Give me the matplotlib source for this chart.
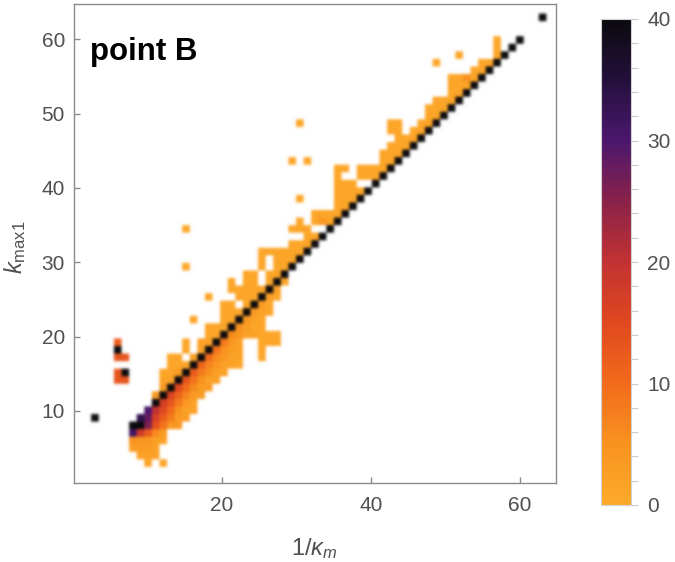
import numpy as np
import matplotlib
matplotlib.use('Agg')
import matplotlib.pyplot as plt
from matplotlib.colors import LinearSegmentedColormap, Normalize
from matplotlib.cm import ScalarMappable
from matplotlib.ticker import MultipleLocator

plt.rcParams['font.family'] = ['Liberation Sans', 'DejaVu Sans']
plt.rcParams['mathtext.fontset'] = 'custom'
plt.rcParams['mathtext.rm'] = 'Liberation Sans'
plt.rcParams['mathtext.it'] = 'Liberation Sans:italic'
plt.rcParams['mathtext.bf'] = 'Liberation Sans:bold'

# ---------------- data ----------------
# diagonal (1/kappa_m == k_max1) cells, all saturated
diag_values = list(range(11, 61))
diag_count = 60
# other saturated / special cells
special_x = [3, 6, 7, 8, 9, 63]
special_y = [9, 18, 15, 8, 8, 63]
special_counts = [45, 45, 45, 45, 40, 45]
# runs: (k_max1, 1/kappa_m from, 1/kappa_m to, count)
runs = [
    (3, 10, 10, 1), (3, 12, 12, 1),
    (4, 9, 11, 2),
    (5, 8, 10, 3), (5, 11, 11, 2),
    (6, 8, 8, 5), (6, 9, 10, 4), (6, 11, 12, 2),
    (7, 8, 8, 31), (7, 9, 9, 18), (7, 10, 10, 12), (7, 11, 11, 6), (7, 12, 12, 3),
    (8, 10, 10, 26), (8, 11, 11, 14), (8, 12, 12, 9), (8, 13, 14, 4),
    (9, 9, 9, 33), (9, 10, 10, 28), (9, 11, 11, 17), (9, 12, 12, 12), (9, 13, 13, 8), (9, 14, 15, 3),
    (10, 10, 10, 30), (10, 11, 11, 20), (10, 12, 12, 15), (10, 13, 13, 10), (10, 14, 14, 5), (10, 15, 16, 2),
    (11, 12, 12, 17), (11, 13, 13, 13), (11, 14, 14, 8), (11, 15, 15, 4), (11, 16, 16, 2),
    (12, 11, 11, 3), (12, 13, 13, 16), (12, 14, 14, 11), (12, 15, 15, 7), (12, 16, 17, 3),
    (13, 12, 12, 3), (13, 14, 14, 15), (13, 15, 15, 10), (13, 16, 16, 6), (13, 17, 18, 3),
    (14, 6, 7, 13), (14, 12, 13, 2), (14, 15, 15, 13), (14, 16, 16, 9), (14, 17, 17, 5), (14, 18, 19, 2),
    (15, 6, 6, 13), (15, 12, 13, 1), (15, 14, 14, 3), (15, 16, 16, 12), (15, 17, 17, 8), (15, 18, 18, 5), (15, 19, 20, 2),
    (16, 13, 15, 1), (16, 17, 17, 11), (16, 18, 18, 7), (16, 19, 19, 4), (16, 20, 21, 2), (16, 22, 22, 1),
    (17, 6, 7, 13), (17, 13, 14, 1), (17, 16, 16, 2), (17, 18, 18, 10), (17, 19, 19, 6), (17, 20, 20, 4), (17, 21, 22, 2), (17, 25, 25, 1),
    (18, 15, 15, 1), (18, 17, 17, 2), (18, 19, 19, 9), (18, 20, 20, 5), (18, 21, 21, 3), (18, 22, 22, 2), (18, 25, 25, 1),
    (19, 6, 6, 12), (19, 15, 15, 1), (19, 17, 18, 2), (19, 20, 20, 8), (19, 21, 21, 4), (19, 22, 22, 2), (19, 25, 27, 1),
    (20, 18, 19, 1), (20, 21, 21, 6), (20, 22, 22, 4), (20, 23, 24, 2), (20, 25, 27, 1),
    (21, 18, 20, 1), (21, 22, 22, 5), (21, 23, 23, 3), (21, 24, 25, 1),
    (22, 16, 16, 1), (22, 20, 21, 1), (22, 23, 23, 4), (22, 24, 24, 2), (22, 25, 25, 1),
    (23, 20, 22, 1), (23, 24, 24, 3), (23, 25, 25, 2), (23, 26, 26, 1),
    (24, 20, 21, 1), (24, 23, 23, 1), (24, 25, 25, 3), (24, 26, 26, 1),
    (25, 18, 18, 1), (25, 22, 24, 1), (25, 26, 26, 2), (25, 27, 27, 1),
    (26, 21, 21, 1), (26, 22, 25, 1), (26, 27, 27, 2),
    (27, 21, 21, 1), (27, 23, 24, 1), (27, 26, 26, 1), (27, 28, 28, 1),
    (28, 23, 24, 1), (28, 26, 27, 1),
    (29, 15, 15, 1), (29, 25, 25, 1), (29, 27, 28, 1),
    (30, 25, 25, 1), (30, 27, 29, 1),
    (31, 25, 30, 1),
    (32, 29, 31, 1),
    (34, 31, 32, 1),
    (35, 15, 15, 1), (35, 29, 31, 1),
    (36, 30, 30, 1), (36, 32, 32, 1), (36, 34, 34, 4), (36, 35, 35, 1),
    (37, 32, 32, 1), (37, 34, 36, 1),
    (38, 36, 37, 1),
    (39, 30, 30, 1), (39, 36, 38, 1),
    (40, 36, 39, 1),
    (41, 36, 38, 1),
    (42, 36, 36, 1), (42, 39, 41, 1),
    (43, 36, 37, 1), (43, 39, 42, 1),
    (44, 29, 29, 1), (44, 31, 31, 1), (44, 42, 43, 1),
    (45, 42, 44, 1),
    (46, 43, 45, 1),
    (47, 44, 46, 1),
    (48, 43, 44, 1), (48, 46, 47, 1),
    (49, 30, 30, 1), (49, 43, 44, 1), (49, 47, 48, 1),
    (50, 48, 49, 1),
    (51, 48, 50, 1),
    (52, 49, 51, 1),
    (53, 51, 52, 1),
    (54, 51, 53, 1),
    (55, 51, 52, 1), (55, 53, 53, 5), (55, 54, 54, 1),
    (56, 54, 55, 1),
    (57, 49, 49, 1), (57, 55, 56, 1),
    (58, 52, 52, 1), (58, 57, 57, 1),
    (59, 57, 57, 1),
    (60, 57, 57, 1),
]
x_ticks = [20, 40, 60]
y_ticks = [10, 20, 30, 40, 50, 60]
cbar_ticks = [0, 10, 20, 30, 40]

# -------------- assemble --------------
xs, ys, ws = [], [], []
for k in diag_values:
    xs.append(k); ys.append(k); ws.append(diag_count)
for a, b, c in zip(special_x, special_y, special_counts):
    xs.append(a); ys.append(b); ws.append(c)
for (yy, x0, x1, c) in runs:
    for xx in range(x0, x1 + 1):
        xs.append(xx); ys.append(yy); ws.append(c)

edges = np.linspace(0.5, 64.5, 64)
H, _, _ = np.histogram2d(xs, ys, bins=[edges, edges], weights=ws)
Z = H.T

cmap = LinearSegmentedColormap.from_list('sunset_r', [
    (0.0, '#FDAA2B'), (0.125, '#F8921F'), (0.25, '#F26B1C'), (0.375, '#E0481F'),
    (0.5, '#C23232'), (0.625, '#8A2249'), (0.75, '#4C176E'), (0.875, '#24103C'),
    (1.0, '#0B0A0E')])
norm = Normalize(0, 40)

rgba = cmap(norm(np.clip(Z, 0, 40)))
rgba[Z == 0] = (1, 1, 1, 1)

f = 10
big = np.repeat(np.repeat(rgba, f, axis=0), f, axis=1)


def blur(a, s):
    r = int(3 * s) + 1
    k = np.exp(-0.5 * (np.arange(-r, r + 1) / s) ** 2)
    k /= k.sum()
    p = np.pad(a, ((r, r), (0, 0), (0, 0)), mode='constant', constant_values=1)
    out = sum(k[i] * p[i:i + a.shape[0]] for i in range(2 * r + 1))
    p = np.pad(out, ((0, 0), (r, r), (0, 0)), mode='constant', constant_values=1)
    out = sum(k[i] * p[:, i:i + a.shape[1]] for i in range(2 * r + 1))
    return np.clip(out, 0, 1)


big = blur(big, 1.35 * f / 7.45)

# -------------- figure --------------
W, Hh = 675, 562
PT = 0.72  # points per pixel at dpi 100
fig = plt.figure(figsize=(W / 100, Hh / 100), dpi=100)
ax = fig.add_axes([74 / W, (Hh - 483) / Hh, (556 - 74) / W, (483 - 4) / Hh])
ax.imshow(big, extent=(edges[0], edges[-1], edges[0], edges[-1]), origin='lower',
          interpolation='antialiased', aspect='auto')
ax.set_xlim(0.2, 64.8)
ax.set_ylim(0.3, 64.75)

frame_col = '#8a8a8a'
lab_col = '#505050'
for s in ax.spines.values():
    s.set_color(frame_col)
    s.set_linewidth(1.0)
ax.set_xticks(x_ticks)
ax.set_yticks(y_ticks)
ax.tick_params(direction='in', length=6 * PT, width=1.0, color=frame_col, labelcolor=lab_col,
               labelsize=15, top=False, right=False)
ax.tick_params(axis='x', pad=13 * PT)
ax.tick_params(axis='y', pad=9 * PT)

fig.text(314 / W, (Hh - 555) / Hh, r'$1/\kappa_m$', fontsize=17, color=lab_col,
         ha='center', va='baseline')
fig.text(15 / W, (Hh - 247) / Hh, r'$k_{\mathrm{max1}}$', fontsize=17, color=lab_col,
         ha='center', va='center', rotation=90)

ax.text(16 / 482, (483 - 60) / 479, 'point B', transform=ax.transAxes, fontsize=22.5,
        fontweight='bold', color='black', ha='left', va='baseline')

cax = fig.add_axes([601 / W, (Hh - 505) / Hh, 30 / W, (505 - 19) / Hh])
sm = ScalarMappable(norm=norm, cmap=cmap)
cb = fig.colorbar(sm, cax=cax)
cb.set_ticks(cbar_ticks)
cb.ax.yaxis.set_minor_locator(MultipleLocator(2))
cb.outline.set_edgecolor('#d0d0d0')
cb.outline.set_linewidth(0.8)
cax.tick_params(which='both', direction='out', length=7 * PT, width=0.8, color='#cccccc',
                labelcolor=lab_col, labelsize=15, pad=9 * PT)

fig.savefig('out.png', dpi=100)
